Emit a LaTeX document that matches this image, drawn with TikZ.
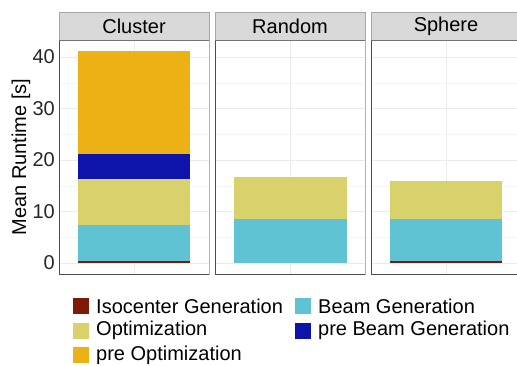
\documentclass[tikz,border=0pt]{standalone}
\usepackage{fontspec}
\setmainfont{Liberation Sans}
\begin{document}
\begin{tikzpicture}[x=1pt,y=-1pt,
  lab/.style={font=\fontsize{20}{22}\selectfont, inner sep=0pt},
  majgrid/.style={draw=black!8, line width=0.8pt},
  mingrid/.style={draw=black!4, line width=0.5pt},
  stripbox/.style={draw=black!35, fill=black!15, line width=0.8pt},
  keybox/.style={minimum width=16pt, minimum height=16pt, inner sep=0pt}]
\definecolor{isoc}{HTML}{7E1A08}
\definecolor{beam}{HTML}{5FC3D3}
\definecolor{optim}{HTML}{D9D26C}
\definecolor{prebeam}{HTML}{0E14AA}
\definecolor{preopt}{HTML}{ECB114}
\useasboundingbox (0,0) rectangle (517,365);
% value -> y : y = 263 - 5.15*v
\foreach \xl/\xr/\name in {59/209/Cluster, 215/365/Random, 371/521/Sphere}{
  % grid
  \foreach \v in {5,15,25,35}{\draw[mingrid] (\xl,{263-5.15*\v}) -- (\xr,{263-5.15*\v});}
  \foreach \v in {0,10,20,30,40}{\draw[majgrid] (\xl,{263-5.15*\v}) -- (\xr,{263-5.15*\v});}
  \draw[majgrid] ({(\xl+\xr)/2},40) -- ({(\xl+\xr)/2},274);
  % border
  \draw[black!30, line width=0.8pt] (\xl,40) rectangle (\xr,274);
  \draw[black!70, line width=1pt] (\xl,40) -- (\xl,274) -- (\xr,274);
  % strip
  \draw[stripbox] (\xl,12) rectangle (\xr,40);
  \draw[black!55, line width=0.9pt] (\xl,40) -- (\xr,40);
  \node[lab] (s\name) at ({(\xl+\xr)/2},26) {\name};
}
% Cluster bars
\fill[isoc]    (78,263) rectangle (190,{263-5.15*0.3});
\fill[beam]    (78,{263-5.15*0.3}) rectangle (190,{263-5.15*7.3});
\fill[optim]   (78,{263-5.15*7.3}) rectangle (190,{263-5.15*16.25});
\fill[prebeam] (78,{263-5.15*16.25}) rectangle (190,{263-5.15*21.2});
\fill[preopt]  (78,{263-5.15*21.2}) rectangle (190,{263-5.15*41.2});
% Random bars
\fill[beam]    (234,263) rectangle (347,{263-5.15*8.6});
\fill[optim]   (234,{263-5.15*8.6}) rectangle (347,{263-5.15*16.75});
% Sphere bars
\fill[isoc]    (390,263) rectangle (502,{263-5.15*0.3});
\fill[beam]    (390,{263-5.15*0.3}) rectangle (502,{263-5.15*8.6});
\fill[optim]   (390,{263-5.15*8.6}) rectangle (502,{263-5.15*16.0});
% y tick labels
\foreach \v in {0,10,20,30,40}{
  \node[lab, anchor=east, text=black!85] (t\v) at (55,{263-5.15*\v}) {\v};
}
\node[lab, rotate=90] (ytitle) at (21,157) {Mean Runtime [s]};
% legend
\node[keybox, fill=isoc]    (k1) at (80.5,306) {};
\node[lab, anchor=west] (l1) at (96,306) {Isocenter Generation};
\node[keybox, fill=optim]   (k2) at (80.5,330.5) {};
\node[lab, anchor=west] (l2) at (96,330.5) {Optimization};
\node[keybox, fill=preopt]  (k3) at (80.5,355) {};
\node[lab, anchor=west] (l3) at (96,355) {pre Optimization};
\node[keybox, fill=beam]    (k4) at (302.5,306) {};
\node[lab, anchor=west] (l4) at (318,306) {Beam Generation};
\node[keybox, fill=prebeam] (k5) at (302.5,330.5) {};
\node[lab, anchor=west] (l5) at (318,330.5) {pre Beam Generation};
\end{tikzpicture}
\end{document}
